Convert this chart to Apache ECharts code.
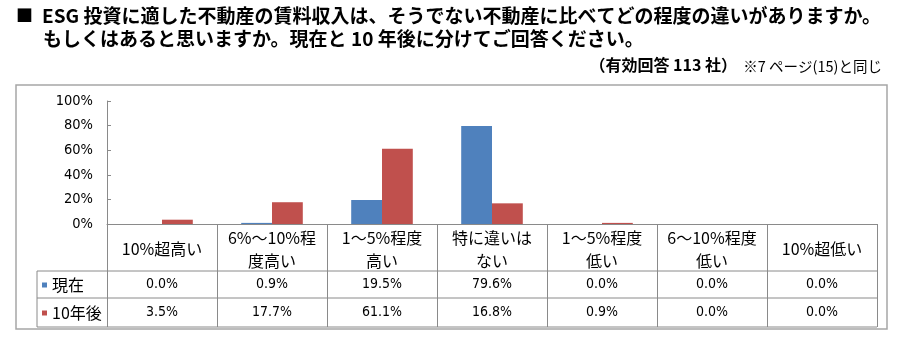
<!DOCTYPE html>
<html>
<head>
<meta charset="utf-8">
<script src="https://cdn.jsdelivr.net/npm/echarts@6/dist/echarts.min.js"></script>
<style>
  html, body { margin: 0; padding: 0; background: #fff; }
  #chart { width: 900px; height: 340px; }
</style>
</head>
<body>
<div id="chart"></div>
<script>
// ---- data ----
const categories = ['10%超高い', '6%～10%程\n度高い', '1～5%程度\n高い', '特に違いは\nない', '1～5%程度\n低い', '6～10%程度\n低い', '10%超低い'];
const seriesNames = ['現在', '10年後'];
const currentValues = [0.0, 0.9, 19.5, 79.6, 0.0, 0.0, 0.0];
const futureValues = [3.5, 17.7, 61.1, 16.8, 0.9, 0.0, 0.0];
const yTicks = { min: 0, max: 100, interval: 20 };

const titleLine1 = 'ESG 投資に適した不動産の賃料収入は、そうでない不動産に比べてどの程度の違いがありますか。';
const titleLine2 = 'もしくはあると思いますか。現在と 10 年後に分けてご回答ください。';
const noteMain = '（有効回答 113 社）';
const noteSub = '※7 ページ(15)と同じ';

// ---- layout / style ----
const CJK = "'Noto Sans CJK JP', 'Noto Sans CJK SC', sans-serif";
const NUM = "'Liberation Sans Narrow', 'DejaVu Sans Condensed', 'Liberation Sans', sans-serif";
const LINE = '#8a8a8a';
const G = { left: 107, right: 23, top: 101, bottom: 116 };
const W = 900, H = 340;
const axisY = H - G.bottom;          // 224
const row1 = axisY + 47;             // 271
const row2 = axisY + 74;             // 298
const row3 = axisY + 103;            // 327
const tableLeft = 37;
const tableRight = W - G.right;

const fmt = v => v.toFixed(1) + '%';

const chart = echarts.init(document.getElementById('chart'), null, { renderer: 'canvas' });

function hLine(y) {
  return { type: 'line', shape: { x1: tableLeft, y1: y, x2: tableRight, y2: y }, style: { stroke: LINE, lineWidth: 1 }, silent: true };
}

const option = {
  backgroundColor: '#fff',
  animation: false,
  grid: { left: G.left, right: G.right, top: G.top, bottom: G.bottom, containLabel: false },
  legend: {
    data: seriesNames,
    orient: 'vertical',
    left: 42,
    top: 277,
    padding: 0,
    itemGap: 12,
    itemWidth: 5,
    itemHeight: 5,
    icon: 'rect',
    selectedMode: false,
    textStyle: { fontFamily: CJK, fontSize: 16, color: '#000', lineHeight: 16 }
  },
  xAxis: [
    {
      type: 'category',
      data: categories,
      position: 'bottom',
      axisLine: { show: true, lineStyle: { color: LINE, width: 1 } },
      axisTick: { show: true, interval: 0, length: row3 - axisY, lineStyle: { color: LINE, width: 1 } },
      axisLabel: { interval: 0, margin: 25, verticalAlign: 'middle', fontFamily: CJK, fontSize: 16, lineHeight: 23, color: '#000', align: 'center' },
      splitLine: { show: false }
    },
    {
      type: 'category',
      data: currentValues.map(fmt),
      position: 'bottom',
      axisLine: { show: false },
      axisTick: { show: false },
      axisLabel: { interval: 0, margin: (row1 + row2) / 2 - axisY, verticalAlign: 'middle', fontFamily: NUM, fontSize: 14, color: '#000' },
      splitLine: { show: false }
    },
    {
      type: 'category',
      data: futureValues.map(fmt),
      position: 'bottom',
      axisLine: { show: false },
      axisTick: { show: false },
      axisLabel: { interval: 0, margin: (row2 + row3) / 2 - axisY, verticalAlign: 'middle', fontFamily: NUM, fontSize: 14, color: '#000' },
      splitLine: { show: false }
    }
  ],
  yAxis: {
    type: 'value',
    min: yTicks.min,
    max: yTicks.max,
    interval: yTicks.interval,
    axisLine: { show: true, lineStyle: { color: LINE, width: 1 } },
    axisTick: { show: true, inside: true, length: 4, lineStyle: { color: LINE } },
    axisLabel: { formatter: '{value}%', margin: 14, fontFamily: NUM, fontSize: 14.5, color: '#000' },
    splitLine: { show: false }
  },
  series: [
    {
      name: seriesNames[0], type: 'bar', xAxisIndex: 0, data: currentValues,
      itemStyle: { color: '#4F81BD' }, barGap: '0%', barCategoryGap: '44%'
    },
    {
      name: seriesNames[1], type: 'bar', xAxisIndex: 0, data: futureValues,
      itemStyle: { color: '#C0504D' }, barGap: '0%', barCategoryGap: '44%'
    }
  ],
  graphic: [
    { type: 'rect', shape: { x: 16, y: 85, width: 871, height: 244 }, style: { fill: 'none', stroke: '#a6a6a6', lineWidth: 1.5 }, silent: true, z: -1 },
    hLine(row1), hLine(row2), hLine(row3),
    { type: 'line', shape: { x1: tableLeft, y1: row1, x2: tableLeft, y2: row3 }, style: { stroke: LINE, lineWidth: 1 }, silent: true },
    { type: 'text', x: 16, y: 16, style: { text: '■', font: 'bold 17px ' + CJK, fill: '#000', textVerticalAlign: 'middle' }, silent: true },
    { type: 'text', x: 42, y: 16, style: { text: titleLine1, font: 'bold 19px ' + CJK, fill: '#000', textVerticalAlign: 'middle' }, silent: true },
    { type: 'text', x: 43, y: 39, style: { text: titleLine2, font: 'bold 19px ' + CJK, fill: '#000', textVerticalAlign: 'middle' }, silent: true },
    { type: 'text', x: 737, y: 65, style: { text: noteMain, font: 'bold 16px ' + CJK, fill: '#000', textAlign: 'right', textVerticalAlign: 'middle' }, silent: true },
    { type: 'text', x: 882, y: 66, style: { text: noteSub, font: '14.5px ' + CJK, fill: '#000', textAlign: 'right', textVerticalAlign: 'middle' }, silent: true }
  ]
};

chart.setOption(option);
</script>
</body>
</html>
